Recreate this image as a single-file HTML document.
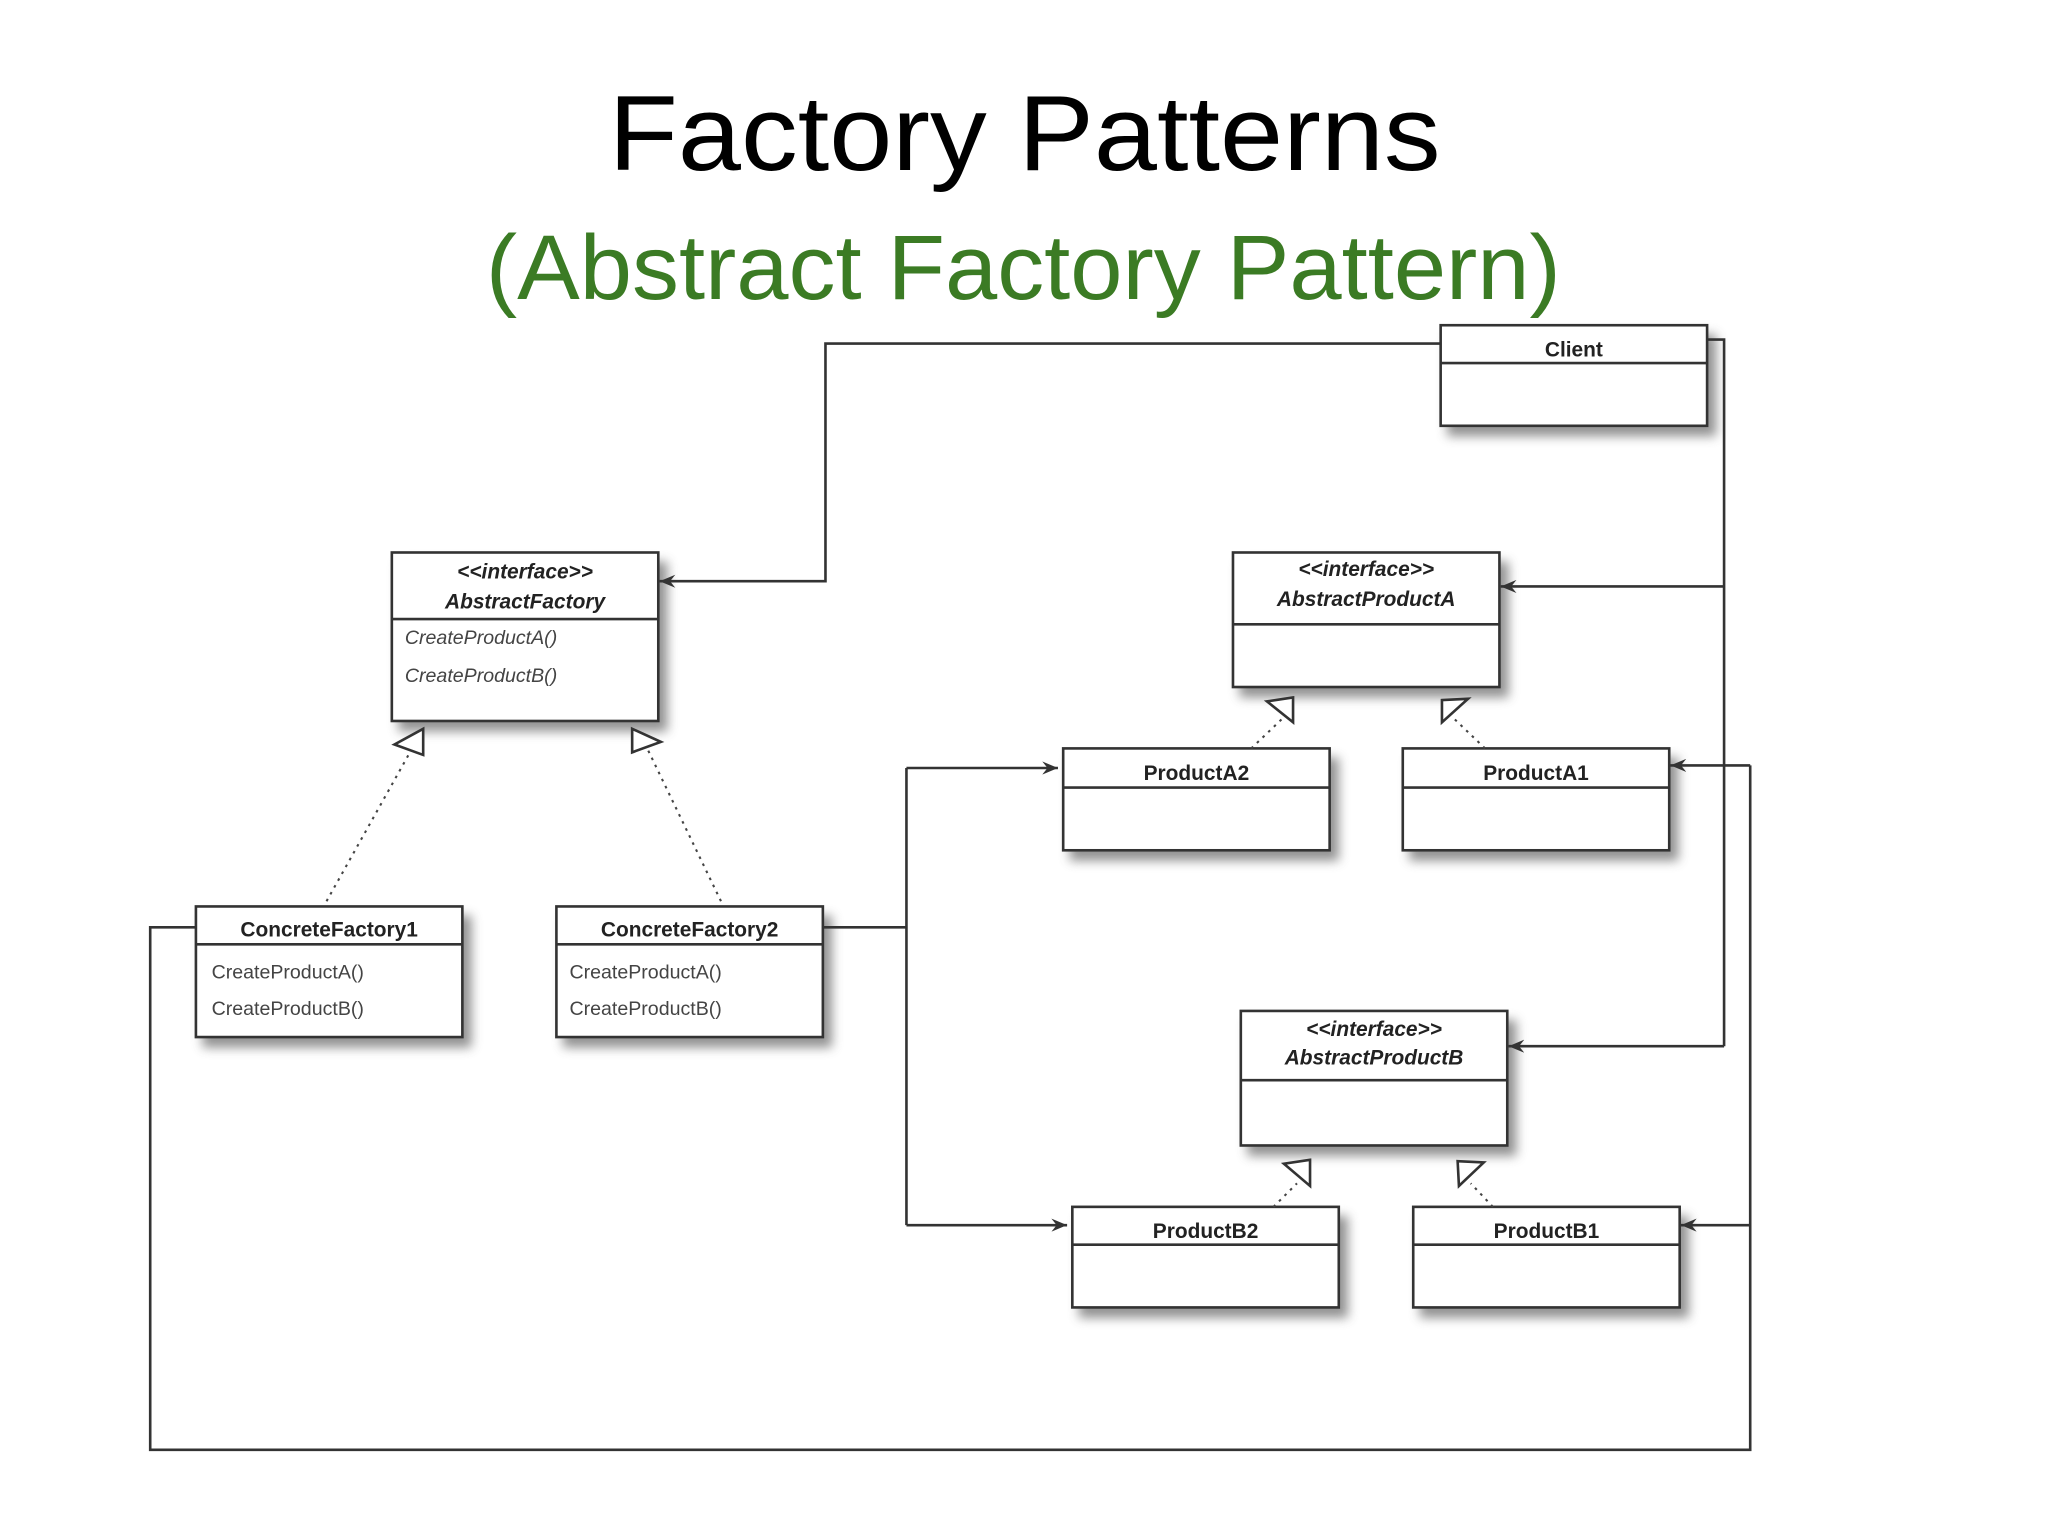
<!DOCTYPE html>
<html><head><meta charset="utf-8"><style>
html,body{margin:0;padding:0;background:#fff;}
svg{display:block;}
</style></head><body>
<svg width="2048" height="1536" viewBox="0 0 1568 1176" xmlns="http://www.w3.org/2000/svg" font-family="Liberation Sans, sans-serif">
<defs>
<filter id="sh" x="-10%" y="-10%" width="130%" height="140%"><feGaussianBlur stdDeviation="4"/></filter>
<marker id="ar" viewBox="0 0 12 10" refX="12" refY="5" markerWidth="12" markerHeight="10" markerUnits="userSpaceOnUse" orient="auto"><path d="M0,0 L12,5 L0,10 L4,5 z" fill="#333"/></marker>
</defs>
<rect width="1568" height="1176" fill="#fff"/>
<text x="466" y="130" font-size="82" fill="#000" textLength="637" lengthAdjust="spacingAndGlyphs">Factory Patterns</text>
<text x="372" y="229" font-size="70" fill="#3b7b24" textLength="823" lengthAdjust="spacingAndGlyphs">(Abstract Factory Pattern)</text>

<g fill="#777" filter="url(#sh)" opacity="0.8">
<rect x="1108" y="256" width="206" height="78"/>
<rect x="305" y="430" width="206" height="130"/>
<rect x="949" y="430" width="206" height="104"/>
<rect x="819" y="580" width="206" height="79"/>
<rect x="1079" y="580" width="206" height="79"/>
<rect x="155" y="701" width="206" height="101"/>
<rect x="431" y="701" width="206" height="101"/>
<rect x="955" y="781" width="206" height="104"/>
<rect x="826" y="931" width="206" height="78"/>
<rect x="1087" y="931" width="206" height="78"/>
</g>

<g fill="#fff" stroke="#333" stroke-width="2">
<rect x="1103" y="249" width="204" height="77"/><line x1="1103" y1="278" x2="1307" y2="278"/>
<rect x="300" y="423" width="204" height="129"/><line x1="300" y1="474" x2="504" y2="474"/>
<rect x="944" y="423" width="204" height="103"/><line x1="944" y1="478" x2="1148" y2="478"/>
<rect x="814" y="573" width="204" height="78"/><line x1="814" y1="603" x2="1018" y2="603"/>
<rect x="1074" y="573" width="204" height="78"/><line x1="1074" y1="603" x2="1278" y2="603"/>
<rect x="150" y="694" width="204" height="100"/><line x1="150" y1="723" x2="354" y2="723"/>
<rect x="426" y="694" width="204" height="100"/><line x1="426" y1="723" x2="630" y2="723"/>
<rect x="950" y="774" width="204" height="103"/><line x1="950" y1="827" x2="1154" y2="827"/>
<rect x="821" y="924" width="204" height="77"/><line x1="821" y1="953" x2="1025" y2="953"/>
<rect x="1082" y="924" width="204" height="77"/><line x1="1082" y1="953" x2="1286" y2="953"/>
</g>

<g font-size="16" fill="#222" text-anchor="middle" font-weight="bold">
<text x="1205" y="273">Client</text>
<text x="402" y="443" font-style="italic">&lt;&lt;interface&gt;&gt;</text>
<text x="402" y="466" font-style="italic">AbstractFactory</text>
<text x="1046" y="441" font-style="italic">&lt;&lt;interface&gt;&gt;</text>
<text x="1046" y="464" font-style="italic">AbstractProductA</text>
<text x="916" y="597">ProductA2</text>
<text x="1176" y="597">ProductA1</text>
<text x="252" y="717">ConcreteFactory1</text>
<text x="528" y="717">ConcreteFactory2</text>
<text x="1052" y="793" font-style="italic">&lt;&lt;interface&gt;&gt;</text>
<text x="1052" y="815" font-style="italic">AbstractProductB</text>
<text x="923" y="948">ProductB2</text>
<text x="1184" y="948">ProductB1</text>
</g>
<g font-size="15" fill="#444">
<text x="310" y="493" font-style="italic">CreateProductA()</text>
<text x="310" y="522" font-style="italic">CreateProductB()</text>
<text x="162" y="749">CreateProductA()</text>
<text x="162" y="777">CreateProductB()</text>
<text x="436" y="749">CreateProductA()</text>
<text x="436" y="777">CreateProductB()</text>
</g>

<g fill="none" stroke="#333" stroke-width="2">
<polyline points="1103,263 632,263 632,445 505,445" marker-end="url(#ar)"/>
<polyline points="1307,260 1320,260 1320,801"/>
<line x1="1320" y1="449" x2="1149" y2="449" marker-end="url(#ar)"/>
<line x1="1320" y1="801" x2="1155" y2="801" marker-end="url(#ar)"/>
<polyline points="630,710 694,710"/>
<line x1="694" y1="588" x2="694" y2="938"/>
<line x1="694" y1="588" x2="810" y2="588" marker-end="url(#ar)"/>
<line x1="694" y1="938" x2="817" y2="938" marker-end="url(#ar)"/>
<polyline points="150,710 115,710 115,1110 1340,1110 1340,586"/>
<line x1="1340" y1="586" x2="1279" y2="586" marker-end="url(#ar)"/>
<line x1="1340" y1="938" x2="1287" y2="938" marker-end="url(#ar)"/>
</g>

<g fill="none" stroke="#444" stroke-width="1.6" stroke-dasharray="2,4">
<line x1="250" y1="690" x2="315" y2="574"/>
<line x1="552" y1="690" x2="496" y2="574"/>
<line x1="958" y1="573" x2="982" y2="550"/>
<line x1="1137" y1="573" x2="1113" y2="550"/>
<line x1="975" y1="924" x2="993" y2="906"/>
<line x1="1143" y1="924" x2="1126" y2="906"/>
</g>
<g fill="#fff" stroke="#333" stroke-width="2">
<polygon points="324,558 302,570 324,578"/>
<polygon points="484,558 506,568 484,576"/>
<polygon points="990,534 970,537 990,553"/>
<polygon points="1104,536 1124,535 1104,553"/>
<polygon points="1003,888 983,891 1003,908"/>
<polygon points="1116,889 1136,890 1117,908"/>
</g>
</svg>
</body></html>
